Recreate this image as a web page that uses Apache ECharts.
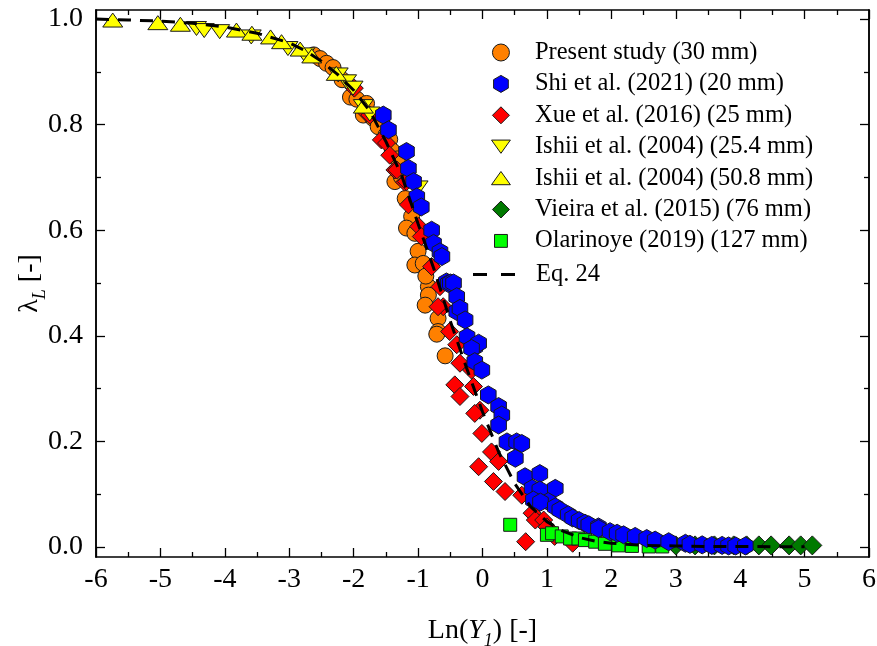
<!DOCTYPE html>
<html><head><meta charset="utf-8">
<script src="https://cdn.jsdelivr.net/npm/echarts@6/dist/echarts.min.js"></script>
<style>html,body{margin:0;padding:0;background:#fff}#c{width:877px;height:646px}</style>
</head><body><div id="c"></div>
<script>
// ---------- data ----------
const presentX = [-2.62,-2.52,-2.42,-2.32,-2.18,-2.05,-1.95,-1.80,-1.85,-1.70,-1.62,-1.50,-1.44,-1.40,-1.32,-1.36,-1.26,-1.20,-1.10,-1.18,-1.05,-1.00,-1.05,-0.92,-0.84,-0.88,-0.84,-0.89,-0.69,-0.69,-0.71,-0.58];
const presentY = [0.932,0.925,0.916,0.908,0.885,0.852,0.848,0.840,0.818,0.812,0.796,0.780,0.772,0.750,0.735,0.692,0.701,0.660,0.626,0.604,0.594,0.560,0.534,0.537,0.493,0.513,0.477,0.458,0.433,0.408,0.403,0.362];

const shiX = [-1.54,-1.46,-1.18,-1.15,-1.07,-1.02,-0.95,-0.79,-0.76,-0.66,-0.63,-0.56,-0.48,-0.53,-0.50,-0.45,-0.40,-0.40,-0.35,-0.27,-0.24,-0.12,-0.06,-0.17,-0.12,-0.01,0.09,0.25,0.30,0.25,0.38,0.53,0.61,0.51,0.66,0.89,0.77,0.89,1.13,0.79,1.02,0.90,1.13,1.20,1.33,1.40,1.50,1.59,1.65,1.80,1.80,1.98,2.09,2.19,2.37,2.55,2.68,2.89,3.15,3.22,3.41,3.56,3.72,3.82,3.93,4.08];
const shiY = [0.818,0.790,0.749,0.717,0.692,0.663,0.644,0.600,0.575,0.559,0.550,0.502,0.499,0.499,0.500,0.500,0.474,0.446,0.452,0.430,0.398,0.379,0.386,0.376,0.351,0.335,0.288,0.266,0.250,0.231,0.199,0.199,0.196,0.168,0.133,0.139,0.111,0.108,0.111,0.089,0.086,0.085,0.076,0.070,0.061,0.055,0.050,0.045,0.042,0.038,0.035,0.029,0.026,0.023,0.020,0.016,0.013,0.010,0.007,0.005,0.004,0.003,0.003,0.002,0.002,0.002];

const xueX = [-1.99,-1.80,-1.75,-1.57,-1.49,-1.44,-1.36,-1.33,-1.21,-1.18,-1.15,-0.99,-0.95,-0.79,-0.66,-0.61,-0.69,-0.51,-0.40,-0.35,-0.17,-0.43,-0.35,-0.14,-0.04,-0.12,-0.01,0.14,-0.06,0.25,0.17,0.35,0.61,0.77,0.82,0.95,1.00,0.67,1.12,1.40];
const xueY = [0.869,0.822,0.818,0.771,0.765,0.742,0.714,0.714,0.691,0.692,0.648,0.607,0.588,0.531,0.493,0.455,0.455,0.408,0.383,0.348,0.335,0.307,0.285,0.304,0.259,0.253,0.215,0.180,0.152,0.162,0.124,0.105,0.098,0.064,0.051,0.051,0.038,0.010,0.020,0.007];

const ishii254X = [-4.44,-4.32,-4.08,-3.59,-3.02,-2.76,-2.24,-2.11,-2.01,-1.85,-1.75,-1.00];
const ishii254Y = [0.982,0.978,0.976,0.966,0.944,0.932,0.894,0.881,0.869,0.834,0.820,0.680];

const ishii508X = [-5.74,-5.04,-4.69,-3.82,-3.58,-3.29,-3.12,-2.83,-2.65,-2.27,-1.85];
const ishii508Y = [0.998,0.993,0.990,0.979,0.973,0.966,0.957,0.943,0.930,0.897,0.835];

const vieiraX = [3.00,3.30,3.60,3.90,4.10,4.29,4.48,4.76,4.94,5.12];
const vieiraY = [0.003,0.003,0.003,0.003,0.003,0.003,0.003,0.003,0.003,0.003];

const olarX = [0.43,1.00,1.08,1.23,1.36,1.49,1.59,1.75,1.90,2.11,2.32,2.58,2.79];
const olarY = [0.042,0.023,0.026,0.020,0.016,0.016,0.013,0.010,0.006,0.003,0.002,0.001,0.001];

const eqX = [-6,-5.5,-5,-4.5,-4,-3.5,-3,-2.75,-2.5,-2.25,-2,-1.75,-1.5,-1.25,-1,-0.75,-0.5,-0.25,0,0.25,0.5,0.75,1,1.25,1.5,1.75,2,2.5,3,3.5,4,4.5,5];
const eqY = [1.0,0.998,0.996,0.992,0.985,0.973,0.955,0.940,0.920,0.895,0.865,0.826,0.768,0.702,0.612,0.525,0.428,0.340,0.256,0.180,0.120,0.076,0.048,0.030,0.018,0.011,0.007,0.003,0.002,0.001,0.001,0.0005,0.0003];

const yMajor = [0,0.2,0.4,0.6,0.8,1.0];
const yMinor = [0.1,0.3,0.5,0.7,0.9];

const names = ['Present study (30 mm)','Shi et al. (2021) (20 mm)','Xue et al. (2016) (25 mm)','Ishii et al. (2004) (25.4 mm)','Ishii et al. (2004) (50.8 mm)','Vieira et al. (2015) (76 mm)','Olarinoye (2019) (127 mm)','Eq. 24'];

// ---------- helpers ----------
const zip = (a, b) => a.map((v, i) => [v, b[i]]);
const FONT = 'Liberation Serif';
const HEX = 'path://M0,-1L0.866,-0.5L0.866,0.5L0,1L-0.866,0.5L-0.866,-0.5Z';
const DIA = 'path://M0,-1L1,0L0,1L-1,0Z';
const TUP = 'path://M0,0L10,14L-10,14Z';
const TDN = 'path://M-10,0L10,0L0,14Z';
const SQ = 'path://M0,0L1,0L1,1L0,1Z';
// legend icons (padded boxes so the visible shape gets the reference size)
const L_TUP = 'path://M0,-2M0,0L10,14L-10,14ZM0,16';
const L_TDN = 'path://M0,-2M-10,0L10,0L0,14ZM0,16';
const L_SQ = 'path://M-0.16,-0.16M0,0L1,0L1,1L0,1ZM1.16,1.16';
const L_DASH = 'path://M0,0L14,0L14,3L0,3ZM28,0L42,0L42,3L28,3Z';
const border = {borderColor: '#1a1a1a', borderWidth: 1};

function sc(name, x, y, symbol, size, color, z) {
  return {name, type: 'scatter', data: zip(x, y), symbol, symbolSize: size, symbolKeepAspect: true,
    itemStyle: Object.assign({color, opacity: 1}, border), z, xAxisIndex: 0, yAxisIndex: 0, emphasis: {disabled: true}};
}

const YMIN = -0.019, YMAX = 1.017;
const axisLineStyle = {show: true, onZero: false, lineStyle: {color: '#000', width: 1.5}};
function yAx(pos, vals, len, labels) {
  return {type: 'value', position: pos, min: YMIN, max: YMAX, offset: 0,
    axisLine: axisLineStyle, splitLine: {show: false},
    axisTick: {show: true, inside: true, length: len, customValues: vals, lineStyle: {color: '#000', width: 1.3}},
    axisLabel: labels ? {show: true, customValues: yMajor, formatter: v => v.toFixed(1), fontFamily: FONT, fontSize: 28, color: '#000', margin: 13} : {show: false}
  };
}

const chart = echarts.init(document.getElementById('c'), null, {renderer: 'canvas'});
chart.setOption({
  animation: false,
  backgroundColor: '#fff',
  grid: {left: 96, right: 8, top: 10, bottom: 89, containLabel: false, outerBoundsMode: 'none'},
  legend: [
    {orient: 'vertical', left: 486, top: 35, itemWidth: 58, itemHeight: 17, itemGap: 6.4, selectedMode: false,
     data: [
       {name: names[0]},
       {name: names[1]},
       {name: names[2]},
       {name: names[3], icon: L_TDN},
       {name: names[4], icon: L_TUP},
       {name: names[5]},
       {name: names[6], icon: L_SQ}
     ],
     textStyle: {fontFamily: FONT, fontSize: 24.5, color: '#000'},
     itemStyle: {borderColor: '#1a1a1a', borderWidth: 1}},
    {orient: 'vertical', left: 468, top: 257, itemWidth: 42, itemHeight: 17, selectedMode: false,
     data: [{name: names[7], icon: L_DASH, itemStyle: {color: '#000', borderWidth: 0}}],
     textStyle: {fontFamily: FONT, fontSize: 24.5, color: '#000', padding: [0, 0, 0, 16]}}
  ],
  xAxis: [
    {type: 'value', position: 'bottom', min: -6, max: 6, interval: 1,
     axisLine: axisLineStyle, splitLine: {show: false},
     axisTick: {inside: true, length: 9, lineStyle: {color: '#000', width: 1.3}},
     minorTick: {show: true, splitNumber: 2, length: 5, lineStyle: {color: '#000', width: 1.3}},
     axisLabel: {fontFamily: FONT, fontSize: 28, color: '#000', margin: 9, formatter: v => String(v)},
     name: 'Ln({i|Y}{s|1}) [-]', nameLocation: 'middle', nameGap: 55,
     nameTextStyle: {fontFamily: FONT, fontSize: 28, color: '#000',
       rich: {i: {fontFamily: FONT, fontSize: 28, fontStyle: 'italic', color: '#000', lineHeight: 38},
              s: {fontFamily: FONT, fontSize: 18, fontStyle: 'italic', color: '#000', verticalAlign: 'bottom', lineHeight: 18}}}},
    {type: 'value', position: 'top', min: -6, max: 6, interval: 1,
     axisLine: axisLineStyle, splitLine: {show: false},
     axisTick: {inside: true, length: 9, lineStyle: {color: '#000', width: 1.3}},
     minorTick: {show: true, splitNumber: 2, length: 5, lineStyle: {color: '#000', width: 1.3}},
     axisLabel: {show: false}}
  ],
  yAxis: [
    Object.assign(yAx('left', yMajor, 9, true), {
      name: '{g|λ}{s|L}{g| [-]}', nameLocation: 'middle', nameGap: 47, nameRotate: 90, nameMoveOverlap: false,
      nameTextStyle: {fontFamily: FONT, fontSize: 28, color: '#000',
        rich: {g: {fontFamily: FONT, fontSize: 28, color: '#000', lineHeight: 38},
               s: {fontFamily: FONT, fontSize: 18, fontStyle: 'italic', color: '#000', verticalAlign: 'bottom', lineHeight: 18}}}}),
    yAx('left', yMinor, 5, false),
    yAx('right', yMajor, 9, false),
    yAx('right', yMinor, 5, false)
  ],
  series: [
    sc(names[0], presentX, presentY, 'circle', 16, '#FF8000', 2),
    sc(names[1], shiX, shiY, HEX, 18, '#0000FF', 8),
    sc(names[2], xueX, xueY, DIA, 18, '#FF0000', 3),
    sc(names[3], ishii254X, ishii254Y, TDN, 20, '#FFFF00', 4),
    sc(names[4], ishii508X, ishii508Y, TUP, 20, '#FFFF00', 5),
    sc(names[5], vieiraX, vieiraY, DIA, 19, '#007A00', 6),
    sc(names[6], olarX, olarY, SQ, 13, '#00FF00', 7),
    {name: names[7], type: 'line', data: zip(eqX, eqY), symbol: 'none', smooth: false, z: 9,
     lineStyle: {color: '#000', width: 3, type: [13, 9]}, itemStyle: {color: '#000'},
     xAxisIndex: 0, yAxisIndex: 0, emphasis: {disabled: true}}
  ]
});
</script>
</body></html>
